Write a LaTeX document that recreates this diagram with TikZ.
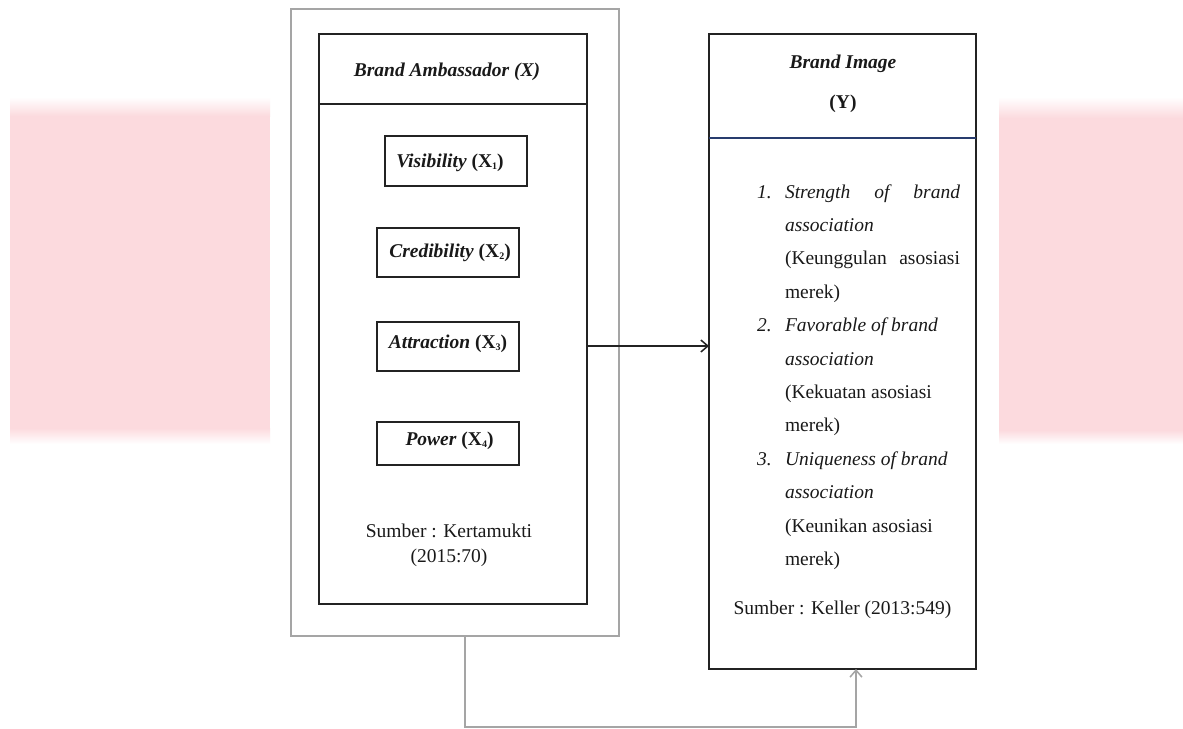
\documentclass[tikz,border=0pt]{standalone}
\usepackage{fontspec}
\setmainfont{Liberation Serif}
\usetikzlibrary{arrows.meta}
\definecolor{pinkbg}{RGB}{252,218,222}
\definecolor{frameg}{RGB}{165,165,165}
\definecolor{boxk}{RGB}{35,35,35}
\definecolor{navyline}{RGB}{40,60,110}
\newcommand{\tinysub}[1]{\raisebox{-2.5pt}{\fontsize{10}{10}\selectfont #1}}
\begin{document}
\begin{tikzpicture}[x=1pt,y=-1pt,
  every node/.style={inner sep=0pt, outer sep=0pt, font=\fontsize{19.5}{23}\selectfont, text=black!90},
  bx/.style={draw=boxk, line width=1.8pt},
  gbx/.style={draw=frameg, line width=1.8pt},
  txt/.style={anchor=base},
  bftxt/.style={anchor=base, font=\fontsize{19.5}{23}\selectfont\bfseries},
  bititxt/.style={anchor=base, font=\fontsize{19.5}{23}\selectfont\bfseries\itshape},
  itm/.style={anchor=base west, font=\fontsize{19.5}{23}\selectfont\itshape},
  rom/.style={anchor=base west, font=\fontsize{19.5}{23}\selectfont},
  tip/.style={-{Straight Barb[length=7pt,width=12pt,line width=1.5pt]}}
]
\useasboundingbox (0,0) rectangle (1183,728);
\fill[white] (0,0) rectangle (1183,728);
% faint pink background bands
\shade[top color=white, bottom color=pinkbg] (10,97) rectangle (270,116);
\fill[pinkbg] (10,116) rectangle (270,428);
\shade[top color=pinkbg, bottom color=white] (10,428) rectangle (270,444);
\shade[top color=white, bottom color=pinkbg] (999,97) rectangle (1183,118);
\fill[pinkbg] (999,118) rectangle (1183,430);
\shade[top color=pinkbg, bottom color=white] (999,430) rectangle (1183,444);

% outer gray frame
\node[gbx, minimum width=328pt, minimum height=627.5pt] (outer) at (455,322.4) {};
% Brand Ambassador box
\node[bx, minimum width=268pt, minimum height=570pt] (xbox) at (453,319) {};
\draw[boxk, line width=1.8pt] (319,104) -- (587,104);
\node[bititxt] (xtitle) at (447,76) {Brand Ambassador (X)};

\node[bx, minimum width=142pt, minimum height=50pt] (vis) at (456,161) {};
\node[bftxt] (vist) at (450,167) {\textit{Visibility} (X\tinysub{1})};
\node[bx, minimum width=142pt, minimum height=49pt] (cred) at (448,252.5) {};
\node[bftxt] (credt) at (450,257) {\textit{Credibility} (X\tinysub{2})};
\node[bx, minimum width=142pt, minimum height=49pt] (attr) at (448,346.5) {};
\node[bftxt] (attrt) at (448,348) {\textit{Attraction} (X\tinysub{3})};
\node[bx, minimum width=142pt, minimum height=43pt] (pow) at (448,443.5) {};
\node[bftxt] (powt) at (449.5,445) {\textit{Power} (X\tinysub{4})};

\node[txt] (src1a) at (449,537) {Sumber : Kertamukti};
\node[txt] (src1b) at (449,562) {(2015:70)};

% Brand Image box
\node[bx, minimum width=267pt, minimum height=635pt] (ybox) at (842.5,351.5) {};
\draw[navyline, line width=1.5pt] (709,138) -- (976,138);
\node[bititxt] (ytitle) at (843,68) {Brand Image};
\node[bftxt] (ysub) at (843,108) {(Y)};

\node[itm] (n1) at (757,198) {1.};
\node[itm] (l1) at (785,198) {\makebox[175pt][s]{Strength\hfill of\hfill brand}};
\node[itm] (l2) at (785,231.4) {association};
\node[rom] (l3) at (785,264.8) {\makebox[175pt][s]{(Keunggulan\hfill asosiasi}};
\node[rom] (l4) at (785,298.2) {merek)};
\node[itm] (n2) at (757,331.6) {2.};
\node[itm] (l5) at (785,331.6) {Favorable of brand};
\node[itm] (l6) at (785,365) {association};
\node[rom] (l7) at (785,398.4) {(Kekuatan asosiasi};
\node[rom] (l8) at (785,431.8) {merek)};
\node[itm] (n3) at (757,465.2) {3.};
\node[itm] (l9) at (785,465.2) {Uniqueness of brand};
\node[itm] (l10) at (785,498.6) {association};
\node[rom] (l11) at (785,532) {(Keunikan asosiasi};
\node[rom] (l12) at (785,565.4) {merek)};
\node[txt] (src2) at (842.5,614) {Sumber : Keller (2013:549)};

% connectors
\draw[boxk, line width=1.5pt, tip] ([yshift=-27pt]xbox.east) -- ([yshift=-27pt]xbox.east -| ybox.west);
\coordinate (fbL) at (465,727);
\coordinate (fbR) at (856,727);
\draw[frameg, line width=1.6pt, tip] (outer.south -| fbL) -- (fbL) -- (fbR) -- (ybox.south -| fbR);
\end{tikzpicture}
\end{document}
